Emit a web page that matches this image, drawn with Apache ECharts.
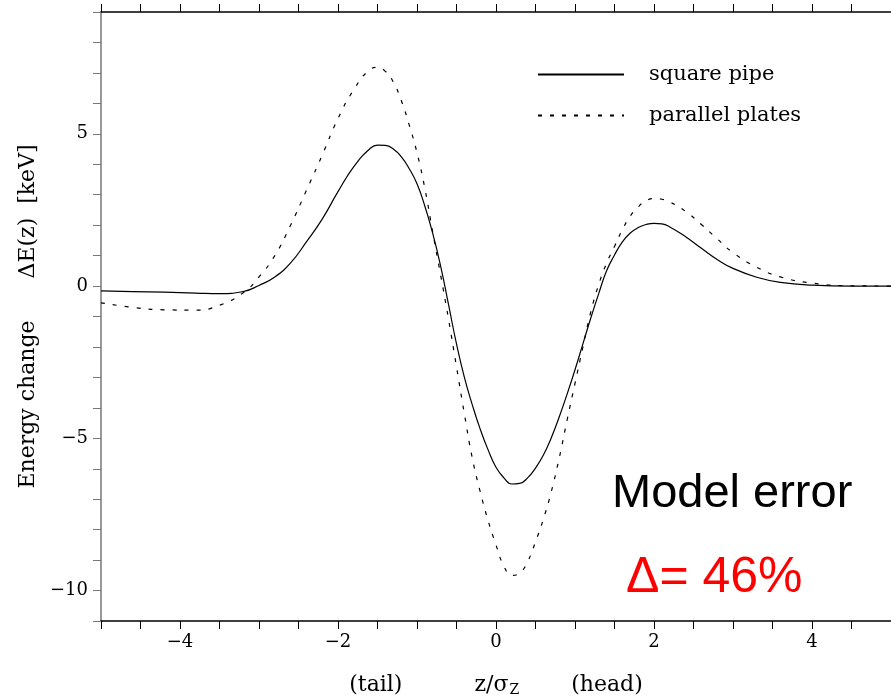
<!DOCTYPE html>
<html>
<head>
<meta charset="utf-8">
<style>
html,body{margin:0;padding:0;background:#fff;}
#chart{width:891px;height:700px;}
</style>
</head>
<body>
<div id="chart"></div>
<script src="https://cdn.jsdelivr.net/npm/echarts@6/dist/echarts.min.js"></script>
<script type="text/javascript">
// z / sigma_z positions
var zPos = [-5, -4.6, -4.2, -3.8, -3.5, -3.2, -3.0, -2.8, -2.6, -2.4,
    -2.2, -2.0, -1.8, -1.6, -1.5, -1.4, -1.3, -1.2, -1.1, -1.0,
    -0.9, -0.8, -0.7, -0.6, -0.5, -0.4, -0.3, -0.2, -0.1, 0,
    0.1, 0.2, 0.3, 0.4, 0.5, 0.6, 0.7, 0.8, 0.9, 1.0,
    1.1, 1.2, 1.3, 1.4, 1.5, 1.6, 1.7, 1.8, 1.9, 2.0,
    2.1, 2.2, 2.4, 2.6, 2.8, 3.0, 3.3, 3.6, 4.0, 4.5, 5.0];
// energy change [keV]
var squarePipe = [-0.16, -0.18, -0.20, -0.23, -0.25, -0.18, 0.02, 0.30, 0.76, 1.45,
    2.20, 3.10, 3.92, 4.50, 4.63, 4.62, 4.50, 4.25, 3.86, 3.36,
    2.62, 1.72, 0.65, -0.62, -1.90, -3.00, -3.90, -4.70, -5.38, -5.95,
    -6.30, -6.50, -6.48, -6.30, -5.98, -5.55, -4.98, -4.30, -3.55, -2.75,
    -1.90, -1.05, -0.25, 0.50, 1.02, 1.45, 1.74, 1.92, 2.02, 2.06,
    2.04, 1.94, 1.62, 1.24, 0.87, 0.58, 0.29, 0.12, 0.03, 0.0, 0.0];
var parallelPlates = [-0.55, -0.70, -0.78, -0.79, -0.63, -0.22, 0.30, 1.00, 2.00, 3.14,
    4.30, 5.50, 6.45, 7.10, 7.18, 7.05, 6.70, 6.10, 5.30, 4.38,
    3.20, 1.75, 0.35, -1.10, -2.65, -4.20, -5.65, -6.75, -7.70, -8.50,
    -9.20, -9.50, -9.42, -9.05, -8.40, -7.65, -6.75, -5.65, -4.40, -3.20,
    -2.00, -0.85, 0.05, 0.75, 1.30, 1.85, 2.30, 2.60, 2.80, 2.87,
    2.85, 2.76, 2.45, 2.02, 1.55, 1.10, 0.62, 0.30, 0.10, 0.01, 0.0];
var seriesNames = ['square pipe', 'parallel plates'];
var xLabelled = [-4, -2, 0, 2, 4];
var yLabelled = [-10, -5, 0, 5];

var serif = 'DejaVu Serif';

function fmt(list) {
    return function (v) {
        var r = Math.round(v * 100) / 100;
        if (list.indexOf(r) < 0) return '';
        return r < 0 ? '\u2212' + Math.abs(r) : String(r);
    };
}
function pairs(ys) {
    return zPos.map(function (z, i) { return [z, ys[i]]; });
}

var myChart = echarts.init(document.getElementById('chart'));
var option = {
    animation: false,
    backgroundColor: '#fff',
    grid: {left: 101, right: 0, top: 12, bottom: 79, outerBoundsMode: 'none', containLabel: false},
    legend: {
        orient: 'vertical',
        left: 537,
        top: 64,
        padding: 0,
        itemWidth: 86,
        itemHeight: 20,
        itemGap: 20,
        itemStyle: {opacity: 0},
        textStyle: {color: '#000', fontFamily: serif, fontSize: 21, padding: [0, 0, 0, 20]},
        data: seriesNames
    },
    xAxis: [{
        type: 'value', min: -5, max: 5, interval: 0.5,
        position: 'bottom',
        splitLine: {show: false},
        axisLine: {onZero: false, lineStyle: {color: '#000', width: 1.5}},
        axisTick: {length: 8, lineStyle: {color: '#000'}},
        axisLabel: {margin: 12, color: '#000', fontFamily: serif, fontSize: 18, formatter: fmt(xLabelled)},
        name: '{t|(tail)}{g1|}{t|z/\u03c3}{s|Z}{g2|}{t|(head)}',
        nameLocation: 'middle',
        nameGap: 52,
        nameTextStyle: {
            rich: {
                t: {fontFamily: serif, fontSize: 22, color: '#000'},
                s: {fontFamily: serif, fontSize: 14, color: '#000', verticalAlign: 'bottom', padding: [10, 0, 0, 1]},
                g1: {width: 72},
                g2: {width: 52}
            }
        }
    }, {
        type: 'value', min: -5, max: 5, interval: 0.5,
        position: 'top',
        splitLine: {show: false},
        axisLine: {onZero: false, lineStyle: {color: '#000', width: 1.5}},
        axisTick: {length: 8, lineStyle: {color: '#000'}},
        axisLabel: {show: false}
    }],
    yAxis: {
        type: 'value', min: -11, max: 9, interval: 1,
        splitLine: {show: false},
        axisLine: {show: true, onZero: false, lineStyle: {color: '#777', width: 1.5}},
        axisTick: {show: true, length: 8, lineStyle: {color: '#777'}},
        axisLabel: {margin: 13, color: '#000', fontFamily: serif, fontSize: 18, formatter: fmt(yLabelled)},
        name: 'Energy change      \u0394E(z)  [keV]',
        nameLocation: 'middle',
        nameGap: 62,
        nameTextStyle: {fontFamily: serif, fontSize: 22, color: '#000'}
    },
    series: [{
        name: seriesNames[0],
        type: 'line',
        data: pairs(squarePipe),
        symbol: 'none',
        smooth: 0.5,
        lineStyle: {color: '#000', width: 1.2, type: 'solid'},
        itemStyle: {color: '#000'}
    }, {
        name: seriesNames[1],
        type: 'line',
        data: pairs(parallelPlates),
        symbol: 'none',
        smooth: 0.5,
        lineStyle: {color: '#000', width: 1.2, type: [4, 8]},
        itemStyle: {color: '#000'}
    }],
    graphic: [{
        type: 'text',
        left: 612, top: 471,
        style: {text: 'Model error', font: '47px "Liberation Sans", Arial, sans-serif', fill: '#000'}
    }, {
        type: 'text',
        left: 626, top: 553,
        style: {text: '\u0394= 46%', font: '50px "Liberation Sans", Arial, sans-serif', fill: '#ff0000'}
    }]
};
myChart.setOption(option);
</script>
</body>
</html>
